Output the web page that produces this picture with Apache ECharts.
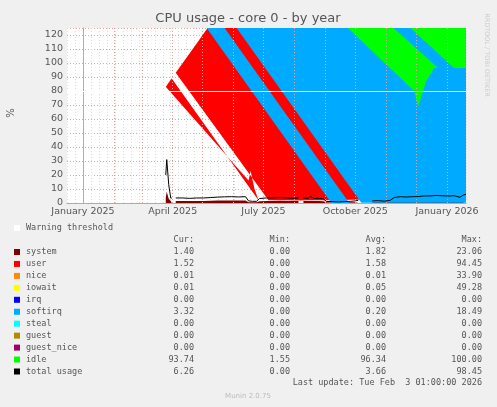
<!DOCTYPE html><html><head><meta charset="utf-8">
<script src="https://cdn.jsdelivr.net/npm/echarts@6/dist/echarts.min.js"></script>
<style>html,body{margin:0;background:#f0f0f0}#c{width:497px;height:407px}</style></head><body><div id="c"></div>
<script>
// x = days since 2025-01-01
const days=[83,84,86,88,89,91,93,100,107,114,121,128,135,142,149,156,163,166,170,174,177,184,191,198,205,212,216,218,221,226,228,231,236,241,244,250,256,262,268,273,276,283,290,296,302,308,312,318,324,330,336,342,348,354,360,366,372,378,381,384];
const N=null;
const system=[4,8,3,1.5,1.5,N,1.5,1.5,1.4,1.5,1.5,1.6,1.7,1.8,1.8,1.7,1.8,0.6,0.5,0.5,1.3,1.5,1.5,1.6,1.5,1.4,1.5,N,1.5,1.4,1.3,1.4,1.4,1.3,0.5,0.4,0.3,0.4,0.5,0.6,0.8,N,0.6,0.7,0.5,0.8,1.5,1.8,1.7,1.8,1.8,2,2,2.2,2.1,2,2.1,1.6,1.5,1.4];
const user=[16,23,10,2,2,N,2,2,1.8,2,2,2.2,2.4,2.5,2.6,2.5,2.6,0.8,0.6,0.6,1.8,2,2.1,2.2,2,1.8,2,N,2,1.8,1.6,1.8,1.8,1.6,0.5,0.5,0.4,0.5,0.6,0.8,1,N,0.8,0.9,0.7,1,2.3,2.6,2.5,2.6,2.7,2.9,3,3.1,3,2.9,3,2,1.6,1.5];
const softirq=[0,0,0,0,0,N,0.1,0.1,0.1,0.1,0.1,0.1,0.1,0.1,0.1,0.1,0.1,0.1,0.1,0.1,0.1,0.1,0.1,0.1,0.1,0.1,0.1,N,0.1,0.1,2,0.1,0.1,0.1,0.1,0.1,0.1,0.1,0.1,0.1,0.1,N,0.1,0.1,0.1,0.1,0.1,0.1,0.1,0.1,0.1,0.1,0.1,0.1,0.1,0.1,0.1,0.5,2.5,3.3];
const idle=[80,69,87,96.5,96.5,N,96.4,96.4,96.7,96.4,96.4,96.1,95.8,95.6,95.5,95.7,95.5,98.5,98.8,98.8,96.8,96.4,96.3,96.1,96.4,96.7,96.4,N,96.4,96.7,95.1,96.7,96.7,97.0,98.9,99.0,99.2,99.0,98.8,98.5,98.1,N,98.5,98.3,98.7,98.1,96.1,95.5,95.7,95.5,95.4,95.0,94.9,94.6,94.8,95.0,94.8,95.9,94.4,93.8];
const total=[20,31,13,3.5,3.5,N,3.6,3.6,3.3,3.6,3.6,3.9,4.2,4.4,4.5,4.3,4.5,1.5,1.2,1.2,3.2,3.6,3.7,3.9,3.6,3.3,3.6,N,3.6,3.3,4.9,3.3,3.3,3.0,1.1,1.0,0.8,1.0,1.2,1.5,1.9,N,1.5,1.7,1.3,1.9,3.9,4.5,4.3,4.5,4.6,5.0,5.1,5.4,5.2,5.0,5.2,4.1,5.6,6.2];
const monthStarts=[-31,0,31,59,90,120,151,181,212,243,273,304,334,365];
const labelDays=[0,90,181,273,365];
const labelText={0:'January 2025',90:'April 2025',181:'July 2025',273:'October 2025',365:'January 2026'};
const legNames=['system','user','nice','iowait','irq','softirq','steal','guest','guest_nice','idle','total usage'];
const legColors=['#7f0000','#ff0000','#ff8c00','#ffff00','#0000ff','#00aaff','#00ffff','#b08c00','#a0006e','#00ff00','#000000'];
const cur=['1.40','1.52','0.01','0.01','0.00','3.32','0.00','0.00','0.00','93.74','6.26'];
const mins=['0.00','0.00','0.00','0.00','0.00','0.00','0.00','0.00','0.00','1.55','0.00'];
const avg=['1.82','1.58','0.01','0.05','0.00','0.20','0.00','0.00','0.00','96.34','3.66'];
const maxs=['23.06','94.45','33.90','49.28','0.00','18.49','0.00','0.00','0.00','100.00','98.45'];

const pair=a=>days.map((d,i)=>[d,a[i]]);
const mono='DejaVu Sans Mono';
const g=[];
const T=(x,y,t,o)=>g.push(Object.assign({type:'text',x,y,style:Object.assign({text:t,font:'8.5px '+mono,fill:'#555',textVerticalAlign:'middle'},o||{})}));
g.push({type:'rect',shape:{x:14,y:225,width:6,height:6},style:{fill:'#fff'}});
T(26,228,'Warning threshold');
[['Cur:',194],['Min:',290],['Avg:',386],['Max:',482]].forEach(h=>T(h[1],240,h[0],{textAlign:'right'}));
legNames.forEach((n,i)=>{const y=252+i*11.95;
 g.push({type:'rect',shape:{x:14,y:y-3,width:6,height:6},style:{fill:legColors[i]}});
 T(26,y,n);T(194,y,cur[i],{textAlign:'right'});T(290,y,mins[i],{textAlign:'right'});T(386,y,avg[i],{textAlign:'right'});T(482,y,maxs[i],{textAlign:'right'});});
T(482,383,'Last update: Tue Feb  3 01:00:00 2026',{textAlign:'right'});
g.push({type:'text',x:248,y:396,style:{text:'Munin 2.0.75',font:'7px DejaVu Sans',fill:'#bbb',textAlign:'center',textVerticalAlign:'middle'}});
g.push({type:'text',x:248,y:19,style:{text:'CPU usage - core 0 - by year',font:'13px DejaVu Sans',fill:'#555',textAlign:'center',textVerticalAlign:'middle'}});
g.push({type:'text',x:11,y:113,rotation:Math.PI/2,style:{text:'%',font:'10px DejaVu Sans',fill:'#555',textAlign:'center',textVerticalAlign:'middle'}});
g.push({type:'text',x:487,y:55,rotation:-Math.PI/2,style:{text:'RRDTOOL / TOBI OETIKER',font:'6.5px DejaVu Sans',fill:'#ccc',textAlign:'center',textVerticalAlign:'middle'}});

const area=(name,data,color)=>({name,type:'line',stack:'a',data:pair(data),symbol:'none',connectNulls:false,lineStyle:{width:0},areaStyle:{color,opacity:1},itemStyle:{color},z:3});
const chart=echarts.init(document.getElementById('c'));
chart.setOption({animation:false,backgroundColor:'#f0f0f0',
 grid:{left:67,right:31,top:28,bottom:204,backgroundColor:'#fff',show:true,borderWidth:0},
 xAxis:{type:'value',min:-16,max:384,interval:8,
  axisLine:{lineStyle:{color:'#aab'}},axisTick:{show:false},
  axisLabel:{customValues:labelDays,formatter:v=>labelText[v]||'',color:'#555',fontSize:9.5,fontFamily:'DejaVu Sans',margin:4,showMinLabel:true,showMaxLabel:true},
  splitLine:{show:true,lineStyle:{color:'#ddd',type:[1,2],width:1}}},
 yAxis:{type:'value',min:0,max:125,interval:10,
  axisLine:{show:true,lineStyle:{color:'#aab'}},axisTick:{show:false},
  axisLabel:{formatter:v=>v%10===0?v:'',color:'#555',fontSize:9.5,fontFamily:'DejaVu Sans',margin:4},
  splitLine:{lineStyle:{color:'#e8a0a0',type:[1,2],width:1}}},
 graphic:g,
 series:[
  Object.assign(area('system',system,'#7f0000'),{markLine:{silent:true,symbol:'none',label:{show:false},lineStyle:{color:'#e8a0a0',type:[1,2],width:1},data:monthStarts.filter(d=>d>-16).map(d=>({xAxis:d}))}}),
  area('user',user,'#ff0000'),
  area('softirq',softirq,'#00aaff'),
  area('idle',idle,'#00ff00'),
  {name:'total',type:'line',data:pair(total),symbol:'none',connectNulls:false,lineStyle:{color:'#000',width:1},z:5,
   markLine:{silent:true,symbol:'none',label:{show:false},lineStyle:{color:'#fff',type:'solid',width:1},data:[{yAxis:80}]}}
 ]});
</script></body></html>
